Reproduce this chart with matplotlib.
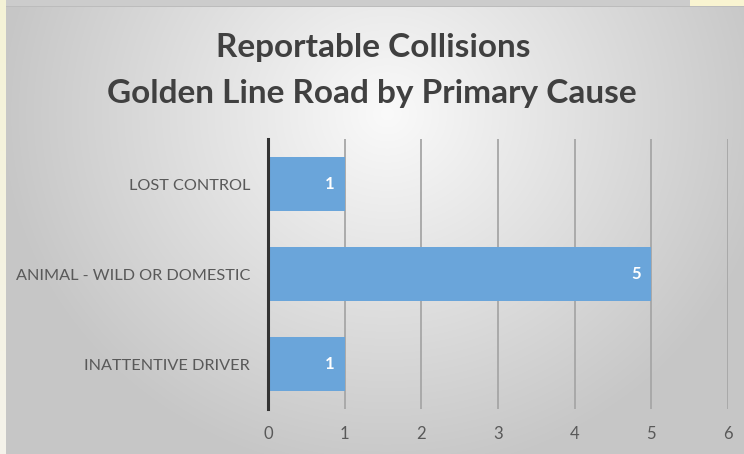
import numpy as np
import matplotlib
matplotlib.use("Agg")
import matplotlib.pyplot as plt

# collisions by primary cause, top to bottom
causes = ["LOST CONTROL", "ANIMAL - WILD OR DOMESTIC", "INATTENTIVE DRIVER"]
counts = [1, 5, 1]
x_ticks = [0, 1, 2, 3, 4, 5, 6]
title_lines = ["Reportable Collisions", "Golden Line Road by Primary Cause"]

W, H = 744, 454
BAR_COLOR = "#6aa5da"
TEXT_COLOR = "#595959"
FONT = "Lato"

fig = plt.figure(figsize=(W / 100, H / 100), dpi=100)

# slide-style backdrop: soft radial grey gradient
bg = fig.add_axes([0, 0, 1, 1], zorder=-10)
yy, xx = np.mgrid[0:H, 0:W]
d = np.sqrt(((xx - 0.52 * W) / (0.62 * W)) ** 2 + ((yy - 0.25 * H) / (0.95 * H)) ** 2)
shade = np.clip(0.98 - 0.24 * d, 0.78, 0.98)
img = np.dstack([shade, shade, shade])
# thin strip along the top and the pale left edge
img[0:6, :, :] = 0.80
img[6, :, :] = 0.74
img[:, 0:6, 0] = 0.96
img[:, 0:6, 1] = 0.95
img[:, 0:6, 2] = np.linspace(0.84, 0.92, H)[:, None]
img[0:6, 690:, 0] = 0.98
img[0:6, 690:, 1] = 0.96
img[0:6, 690:, 2] = 0.82
bg.imshow(img, aspect="auto", extent=[0, W, H, 0], interpolation="bilinear")
bg.set_axis_off()

ax = fig.add_axes([268 / W, 1 - 409 / H, (728 - 268) / W, (409 - 139) / H])
ax.patch.set_alpha(0)

pos = np.arange(len(causes))
ax.barh(pos, counts, height=0.6, color=BAR_COLOR, zorder=3)
ax.set_ylim(len(causes) - 0.5, -0.5)
ax.set_xlim(x_ticks[0], x_ticks[-1])

ax.set_xticks(x_ticks)
ax.set_xticklabels([str(t) for t in x_ticks], fontsize=12, color=TEXT_COLOR, family=FONT)
ax.set_yticks(pos)
ax.set_yticklabels(causes, fontsize=11.7, color=TEXT_COLOR, family=FONT)
ax.tick_params(axis="both", length=0)
ax.tick_params(axis="y", pad=13)
ax.tick_params(axis="x", pad=12)

ax.grid(axis="x", color="#a6a6a6", linewidth=1.3, zorder=1)
for side in ["top", "right", "bottom"]:
    ax.spines[side].set_visible(False)
ax.spines["left"].set_color("#333333")
ax.spines["left"].set_linewidth(2.2)
ax.spines["left"].set_zorder(4)

for i, v in enumerate(counts):
    ax.annotate(str(v), xy=(v, i), xytext=(-10, 0), textcoords="offset pixels",
                ha="right", va="center", color="white", fontsize=12,
                fontweight="bold", family=FONT, zorder=5)

fig.text(373 / W, 1 - 57 / H, title_lines[0], ha="center", va="baseline",
         fontsize=24, fontweight="bold", color="#404040", family=FONT)
fig.text(372 / W, 1 - 103 / H, title_lines[1], ha="center", va="baseline",
         fontsize=24, fontweight="bold", color="#404040", family=FONT)

fig.savefig("out.png", dpi=100)
